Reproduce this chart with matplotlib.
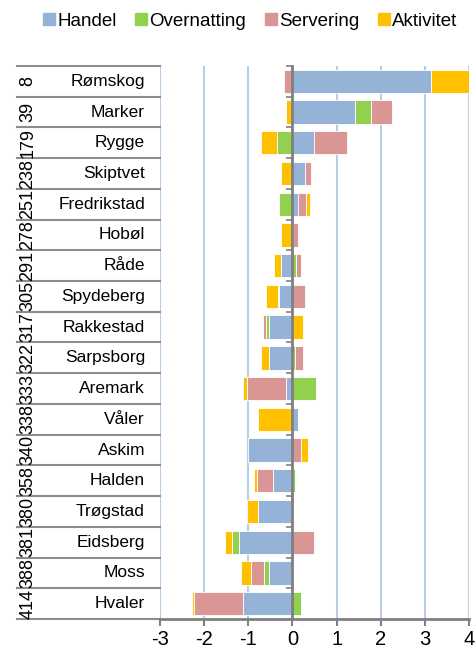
import numpy as np
import matplotlib.pyplot as plt
from matplotlib.lines import Line2D

plt.rcParams['font.family'] = ['Liberation Sans', 'DejaVu Sans']

######################################### Data ######################
kommuner = ['Rømskog', 'Marker', 'Rygge', 'Skiptvet', 'Fredrikstad', 'Hobøl',
            'Råde', 'Spydeberg', 'Rakkestad', 'Sarpsborg', 'Aremark', 'Våler',
            'Askim', 'Halden', 'Trøgstad', 'Eidsberg', 'Moss', 'Hvaler']
rank = ['8', '39', '179', '238', '251', '278', '291', '305', '317',
        '322', '333', '338', '340', '358', '380', '381', '388', '414']

handel = [3.14, 1.41, 0.48, 0.28, 0.12, 0.02, -0.26, -0.31, -0.52,
          -0.54, -0.14, 0.13, -1.01, -0.45, -0.79, -1.20, -0.52, -1.11]
overnatting = [0, 0.37, -0.34, 0, -0.31, 0, 0.07, -0.02, -0.08,
               0.06, 0.53, 0, 0, 0.05, 0, -0.16, -0.12, 0.20]
servering = [-0.20, 0.48, 0.76, 0.14, 0.18, 0.10, 0.13, 0.29, -0.07,
             0.17, -0.88, 0, 0.20, -0.36, 0, 0.48, -0.30, -1.13]
aktivitet = [0.92, -0.14, -0.37, -0.26, 0.10, -0.25, -0.16, -0.28, 0.23,
             -0.18, -0.11, -0.78, 0.16, -0.05, -0.25, -0.17, -0.23, -0.03]

series = [('Handel', handel, '#95B3D7'),
          ('Overnatting', overnatting, '#92D050'),
          ('Servering', servering, '#D99694'),
          ('Aktivitet', aktivitet, '#FFC000')]

######################################### Figure ######################
fig = plt.figure(figsize=(4.77, 6.56), dpi=100)
ax = fig.add_axes([160/477, 1-619/656, 309/477, 553/656])

y = np.arange(len(kommuner))
pos_cum = np.zeros(len(kommuner))
neg_cum = np.zeros(len(kommuner))
# stack positives and negatives separately (like excel)
for name, vals, col in series:
    v = np.array(vals)
    left = np.where(v >= 0, pos_cum, neg_cum)
    ax.barh(y, v, left=left, height=0.76, color=col, edgecolor='white',
            linewidth=0.6, zorder=3)
    pos_cum = pos_cum + np.where(v > 0, v, 0)
    neg_cum = neg_cum + np.where(v < 0, v, 0)

ax.set_xlim(-3, 4)
ax.set_ylim(len(kommuner)-0.5, -0.5)

# grid
ax.set_xticks(range(-3, 5))
ax.set_xticklabels([str(i) for i in range(-3, 5)], fontsize=14.5)
ax.xaxis.grid(True, color='#B9CDE5', linewidth=1.5, zorder=0)
ax.set_axisbelow(True)

# spines
for s in ['top', 'right']:
    ax.spines[s].set_visible(False)
ax.spines['bottom'].set_color('#808080')
ax.spines['bottom'].set_linewidth(2)
ax.spines['left'].set_position(('data', 0))
ax.spines['left'].set_color('#808080')
ax.spines['left'].set_linewidth(2)
ax.spines['left'].set_zorder(4)
ax.tick_params(axis='x', direction='out', length=5, width=1.5, color='#808080', pad=3)
ax.set_yticks(np.arange(-0.5, len(kommuner)))
ax.set_yticklabels([])
ax.tick_params(axis='y', direction='out', length=4, width=1.2, color='#808080')

######################################### Table on the left ######################
tr = ax.get_yaxis_transform()
x0 = (17-160)/309
for b in np.arange(-0.5, len(kommuner)):
    ax.add_line(Line2D([x0, 0], [b, b], transform=tr, color='#8C8C8C',
                       linewidth=1.5, clip_on=False))
for i in range(len(kommuner)):
    ax.text((145-160)/309, i, kommuner[i], transform=tr, ha='right',
            va='center', fontsize=12.5)
    ax.text((28-160)/309, i, rank[i], transform=tr, ha='center',
            va='center', rotation=90, fontsize=13)

######################################### Legend ######################
handles = [Line2D([], [], marker='s', linestyle='none', markersize=8,
                  markerfacecolor=c, markeredgecolor=c) for n, v, c in series]
fig.legend(handles, [n for n, v, c in series], loc='center',
           bbox_to_anchor=(0.525, 0.968), ncol=4, frameon=False, fontsize=13.5,
           handlelength=0.6, handletextpad=0.15, columnspacing=1.0)

fig.savefig('out.png', dpi=100)
